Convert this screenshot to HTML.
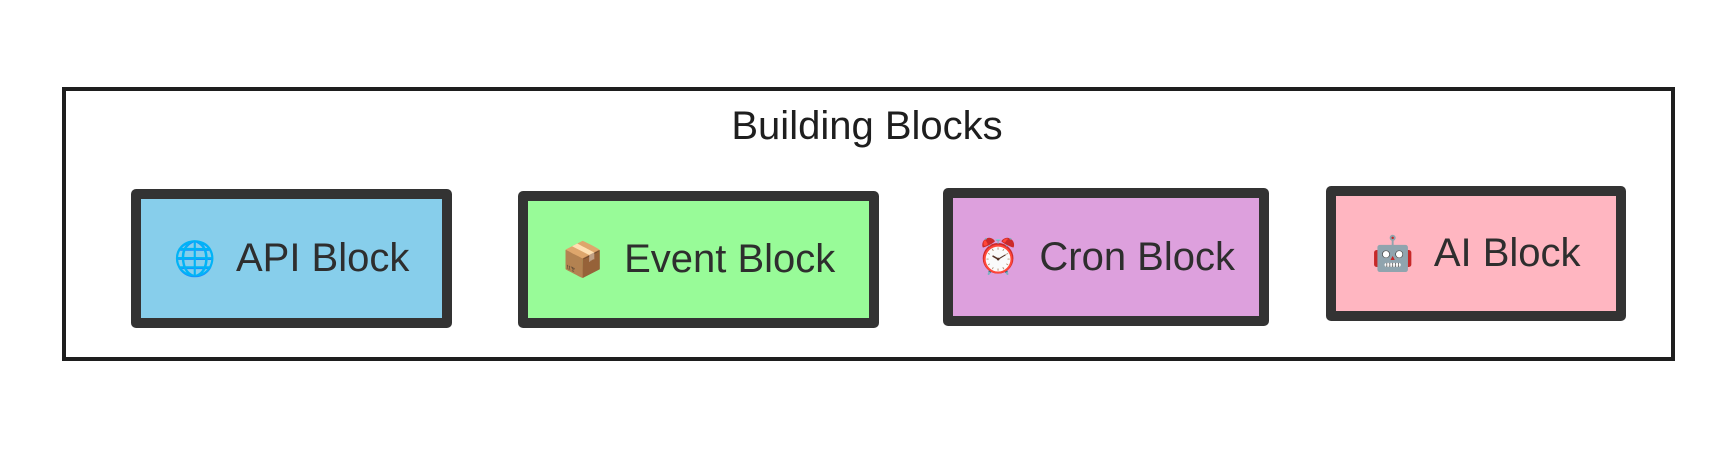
<!DOCTYPE html>
<html><head><meta charset="utf-8"><style>
body{margin:0;width:1734px;height:452px;background:#fff;position:relative;overflow:hidden;font-family:"Liberation Sans","DejaVu Sans",sans-serif;color:#333}
.outer{position:absolute;left:62px;top:87px;width:1605px;height:266px;border:4px solid #1e1e1e;box-sizing:content-box}
.title{position:absolute;left:0;width:1734px;top:104px;text-align:center;font-size:40px;color:#1e1e1e}
.b{position:absolute;border:10px solid #333;border-radius:5px;box-sizing:border-box;display:flex;align-items:center;justify-content:center;font-size:40px;color:#2e2e2e;white-space:nowrap}
.b span.e{font-size:34px;margin-right:20px}
</style></head><body>
<div class="outer"></div>
<div class="title">Building Blocks</div>
<div class="b" style="left:131px;top:189px;width:321px;height:139px;background:#87ceeb"><span class="e">🌐</span>API Block</div>
<div class="b" style="left:518px;top:191px;width:361px;height:137px;background:#98fb98"><span class="e">📦</span>Event Block</div>
<div class="b" style="left:943px;top:188px;width:326px;height:138px;background:#dda0dd"><span class="e">⏰</span>Cron Block</div>
<div class="b" style="left:1326px;top:186px;width:300px;height:135px;background:#ffb6c1"><span class="e">🤖</span>AI Block</div>
</body></html>
